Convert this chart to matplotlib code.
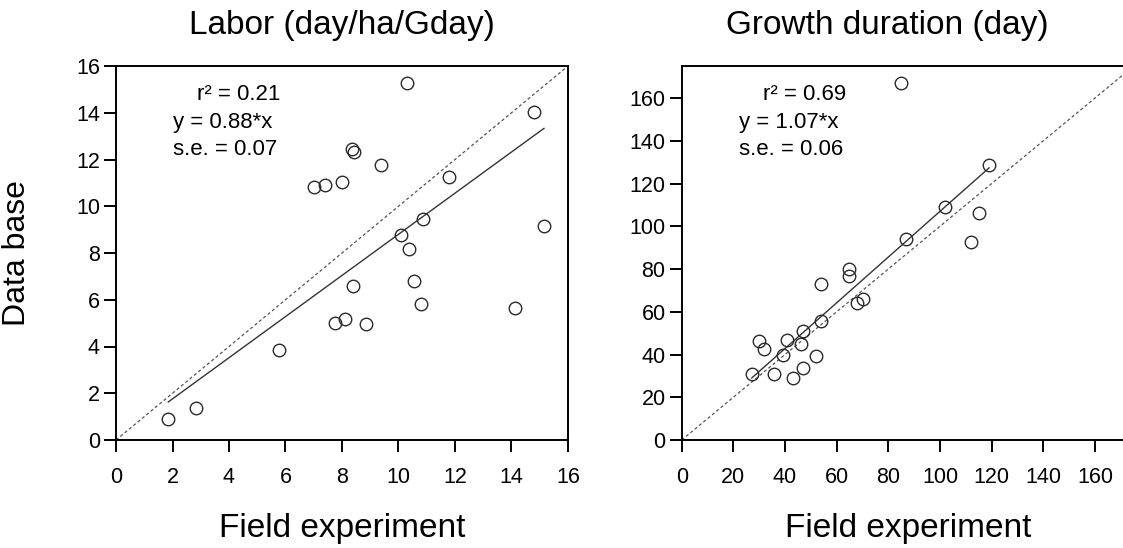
import matplotlib
matplotlib.use("Agg")
import matplotlib.pyplot as plt

plt.rcParams['font.family'] = ['Liberation Sans', 'DejaVu Sans']

# labor (day/ha/Gday): field experiment vs data base
labor_field = [1.85, 2.83, 5.77, 7.02, 7.40, 8.01, 8.35, 8.44, 9.37, 10.31, 14.81, 11.80,
               10.86, 10.09, 10.38, 10.55, 10.78, 15.15, 14.12, 8.38, 7.76, 8.12, 8.84]
labor_db = [0.89, 1.39, 3.86, 10.83, 10.93, 11.04, 12.47, 12.32, 11.76, 15.26, 14.03, 11.24,
            9.47, 8.79, 8.19, 6.79, 5.82, 9.17, 5.64, 6.57, 5.00, 5.19, 4.97]

# growth duration (day)
growth_field = [27.1, 29.9, 32.0, 35.9, 39.1, 40.9, 43.0, 46.2, 47.1, 47.1, 51.9, 54.0,
                54.0, 64.9, 64.9, 68.0, 70.1, 84.9, 86.8, 101.9, 119.0, 115.1, 112.0]
growth_db = [30.9, 46.1, 42.8, 30.9, 39.8, 46.9, 29.1, 44.9, 33.9, 51.1, 39.1, 55.9,
             73.0, 80.0, 76.9, 64.1, 66.0, 166.9, 94.1, 109.1, 128.9, 106.0, 92.8]

titles = ["Labor (day/ha/Gday)", "Growth duration (day)"]
slopes = [0.88, 1.07]
r2 = ["0.21", "0.69"]
se = ["0.07", "0.06"]
limits = [16, 175]
ticks = [list(range(0, 17, 2)), list(range(0, 161, 20))]

fig = plt.figure(figsize=(11.23, 5.48), dpi=100)
ax1 = fig.add_axes([116 / 1123, 108 / 548, 452 / 1123, 374 / 548])
# right panel runs past the figure edge, as in the cropped original
ax2 = fig.add_axes([681.7 / 1123, 108 / 548, 452 / 1123, 374 / 548])

panels = [(ax1, labor_field, labor_db), (ax2, growth_field, growth_db)]
title_x = [0.5, 0.456]
for i, (ax, xs, ys) in enumerate(panels):
    ax.set_xlim(0, limits[i])
    ax.set_ylim(0, limits[i])
    ax.set_xticks(ticks[i])
    ax.set_yticks(ticks[i])

    # 1:1 line
    ax.axline((0, 0), slope=1, color="#555555", lw=0.9, ls=(0, (2.5, 2)))
    # fitted line through origin
    x0, x1 = min(xs), max(xs)
    ax.plot([x0, x1], [slopes[i] * x0, slopes[i] * x1], color="#333333", lw=1.0)
    ax.plot(xs, ys, "o", ms=9, mfc="none", mec="#2a2a2a", mew=1.0)

    ax.text(0.18, 0.925, "r\u00b2 = " + r2[i], transform=ax.transAxes,
            fontsize=16, va="center")
    ax.text(0.126, 0.848, "y = %.2f*x" % slopes[i], transform=ax.transAxes,
            fontsize=16, va="center")
    ax.text(0.126, 0.776, "s.e. = " + se[i], transform=ax.transAxes,
            fontsize=16, va="center")

    for s in ax.spines.values():
        s.set_linewidth(1.4)
    ax.tick_params(direction="out", length=8.6, width=1.4, labelsize=15.5)
    ax.tick_params(axis="x", pad=11)
    ax.tick_params(axis="y", pad=3)

    ax.set_title(titles[i], fontsize=24, pad=23, x=title_x[i])
    ax.set_xlabel("Field experiment", fontsize=24)
    ax.xaxis.set_label_coords(0.5, -0.196)

ax1.set_ylabel("Data base", fontsize=23)
ax1.yaxis.set_label_coords(-0.185, 0.5)

fig.savefig("out.png", dpi=100)
